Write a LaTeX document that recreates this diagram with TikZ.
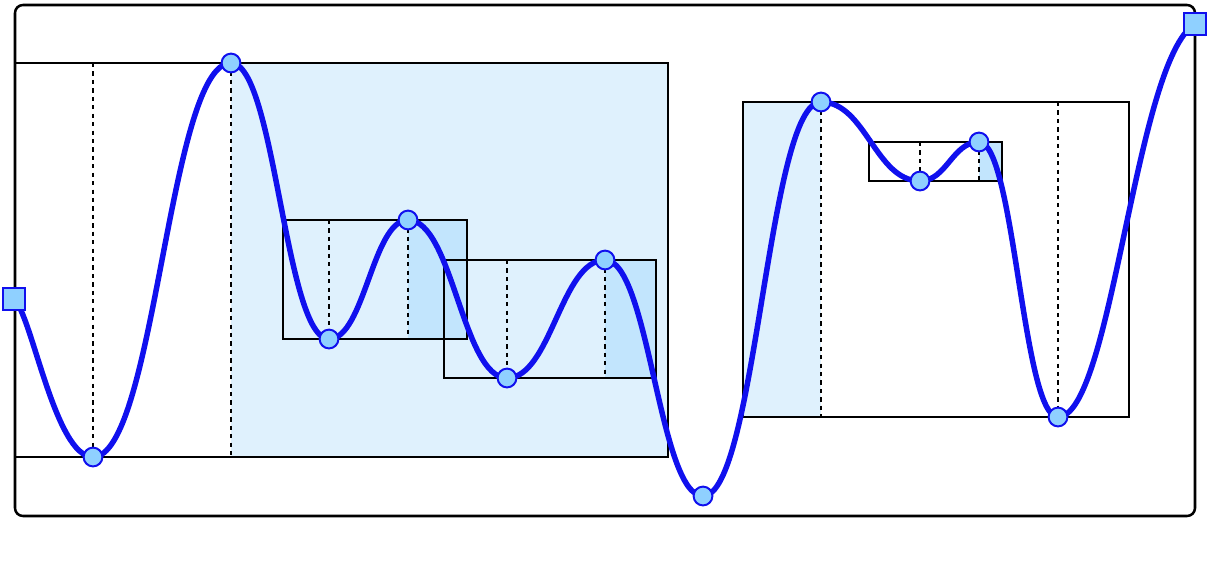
\documentclass[tikz,border=0pt]{standalone}
\usepackage{tikz}
\usetikzlibrary{calc}
\definecolor{curve}{HTML}{1010EE}
\definecolor{pale}{HTML}{DFF1FD}
\definecolor{deepfill}{HTML}{C2E5FD}
\definecolor{dot}{HTML}{8FD0FF}
\begin{document}
\begin{tikzpicture}[x=0.025cm, y=-0.025cm,
  frame/.style={draw, line width=1.8pt},
  guide/.style={dashed, line width=1.6pt},
  wave/.style={draw=curve, line width=3.9pt},
  peak/.style={circle, draw=curve, fill=dot, line width=1.4pt, inner sep=0pt, minimum size=0.47cm},
  endpt/.style={rectangle, draw=curve, fill=dot, line width=1.4pt, inner sep=0pt, minimum size=0.57cm}
]
\useasboundingbox (0,0) rectangle (1211,566);
% shaded regions
\fill[pale] (231,63) rectangle (668,457);
\fill[deepfill] (408,220) rectangle (467,339);
\fill[deepfill] (605,260) rectangle (656,378);
\fill[pale] (743,102) rectangle (821,417);
\fill[deepfill] (979,142) rectangle (1002,181);
% frames
\draw[frame, rounded corners=0.2cm] (15,5) rectangle (1195,516);
\draw[frame] (15,63) rectangle (668,457);
\draw[frame] (283,220) rectangle (467,339);
\draw[frame] (444,260) rectangle (656,378);
\draw[frame] (743,102) rectangle (1129,417);
\draw[frame] (869,142) rectangle (1002,181);
% guides
\foreach \x/\a/\b in {93/63/457, 231/63/457, 329/220/339, 408/220/339,
                      507/260/378, 605/260/378, 821/102/417, 1058/102/417,
                      920/142/181, 979/142/181}
  \draw[guide] (\x,\a) -- (\x,\b);
% curve
\coordinate (s) at (14,299);
\coordinate (e) at (1195,24);
\draw[wave] (s) .. controls (32,315) and (55,457) .. (93,457)
  \foreach \xa/\ya/\xb/\yb in {93/457/231/63, 231/63/329/339, 329/339/408/220,
      408/220/507/378, 507/378/605/260, 605/260/703/496, 703/496/821/102,
      821/102/920/181, 920/181/979/142, 979/142/1058/417} {
    .. controls ({\xa+0.45*(\xb-\xa)},\ya) and ({\xb-0.45*(\xb-\xa)},\yb) .. (\xb,\yb)}
  .. controls (1112,417) and (1135,60) .. (e);
\foreach \x/\y [count=\i] in {93/457, 231/63, 329/339, 408/220, 507/378, 605/260,
                              703/496, 821/102, 920/181, 979/142, 1058/417}
  \node[peak] (m\i) at (\x,\y) {};
\node[endpt] (ns) at (s) {};
\node[endpt] (ne) at (e) {};
\end{tikzpicture}
\end{document}
